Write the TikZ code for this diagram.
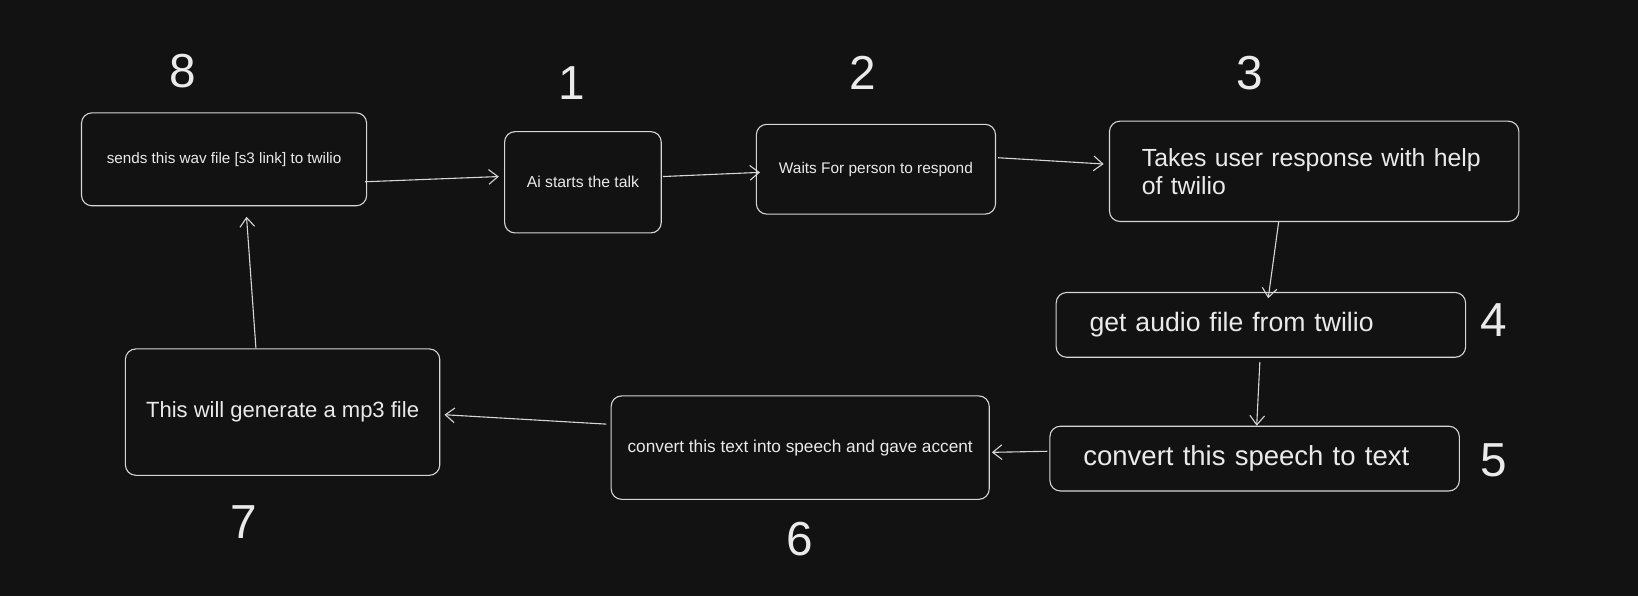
\documentclass[tikz,border=0pt]{standalone}
\usepackage{fontspec}
\setmainfont{Liberation Sans}
\usepackage{tikz}
\usepackage{xcolor}
\usetikzlibrary{calc, arrows.meta}

\definecolor{bgdark}{RGB}{18,18,18}
\definecolor{inkline}{RGB}{214,214,214}
\definecolor{inktext}{RGB}{234,234,234}

\begin{document}
\begin{tikzpicture}[
            x=0.02cm, y=-0.02cm,
            box/.style={draw=inkline, rounded corners=0.2cm, line width=0.6pt, text=inktext, align=center, inner sep=0pt},
            num/.style={text=inktext, font=\fontsize{26}{26}\selectfont},
            flow/.style={draw=inkline, line width=0.6pt, -{Straight Barb[length=5pt,width=8pt]}},
        ]
            \fill[bgdark] (0,0) rectangle (1568,571);

            \node[box, minimum width=5.46cm, minimum height=1.78cm, font=\fontsize{8.3}{10}\selectfont] (n8) at (214.5,152.5) {sends this wav file [s3 link] to twilio};
            \node[box, minimum width=3.0cm, minimum height=1.94cm, font=\fontsize{8.6}{10}\selectfont] (n1) at (558,174.5) {Ai starts the talk};
            \node[box, minimum width=4.58cm, minimum height=1.72cm, font=\fontsize{8.4}{10}\selectfont] (n2) at (838.5,162) {Waits For person to respond};
            \node[box, text width=6.6cm, inner xsep=0.62cm, minimum height=1.92cm, align=left, font=\fontsize{13.5}{15.3}\selectfont] (n3) at (1258,164) {Takes user response with help\\of twilio};
            \node[box, text width=6.56cm, inner xsep=0.64cm, minimum height=1.24cm, align=left, font=\fontsize{14.5}{16}\selectfont] (n4) at (1207,311) {get audio file from twilio};
            \node[box, text width=6.56cm, inner xsep=0.64cm, minimum height=1.24cm, align=left, font=\fontsize{15}{16}\selectfont] (n5) at (1201,439) {convert this speech to text};
            \node[box, minimum width=7.24cm, minimum height=1.98cm, font=\fontsize{9.4}{11}\selectfont] (n6) at (766,428.5) {convert this text into speech and gave accent};
            \node[box, minimum width=6.02cm, minimum height=2.42cm, font=\fontsize{12}{14}\selectfont] (n7) at (270.5,394.5) {This will generate a mp3 file};

            \node[num] (l8) at (175,68) {8};
            \node[num] (l1) at (547,80) {1};
            \node[num] (l2) at (826,70) {2};
            \node[num] (l3) at (1196,70) {3};
            \node[num] (l4) at (1430,306) {4};
            \node[num] (l5) at (1430,441) {5};
            \node[num] (l6) at (766,516) {6};
            \node[num] (l7) at (233,500) {7};

            \draw[flow] ($(n8.east)+(-2,21.5)$) -- ($(n1.west)+(-5,-5.5)$);
            \draw[flow] ($(n1.east)+(1,-5.5)$) -- ($(n2.west)+(4,3)$);
            \draw[flow] ($(n2.east)+(2,-11)$) -- ($(n3.west)+(-5,-7)$);
            \draw[flow] ($(n3.south)+(-34,0)$) -- ($(n4.north)+(7,6)$);
            \draw[flow] ($(n4.south)+(-1,4)$) -- ($(n5.north)+(2,0)$);
            \draw[flow] ($(n5.west)+(-2,-7)$) -- ($(n6.east)+(2,4.5)$);
            \draw[flow] ($(n6.west)+(-4,-22.5)$) -- ($(n7.east)+(4,2.5)$);
            \draw[flow] ($(n7.north)+(-25.5,0)$) -- ($(n8.south)+(21.5,10)$);
        \end{tikzpicture}
\end{document}
